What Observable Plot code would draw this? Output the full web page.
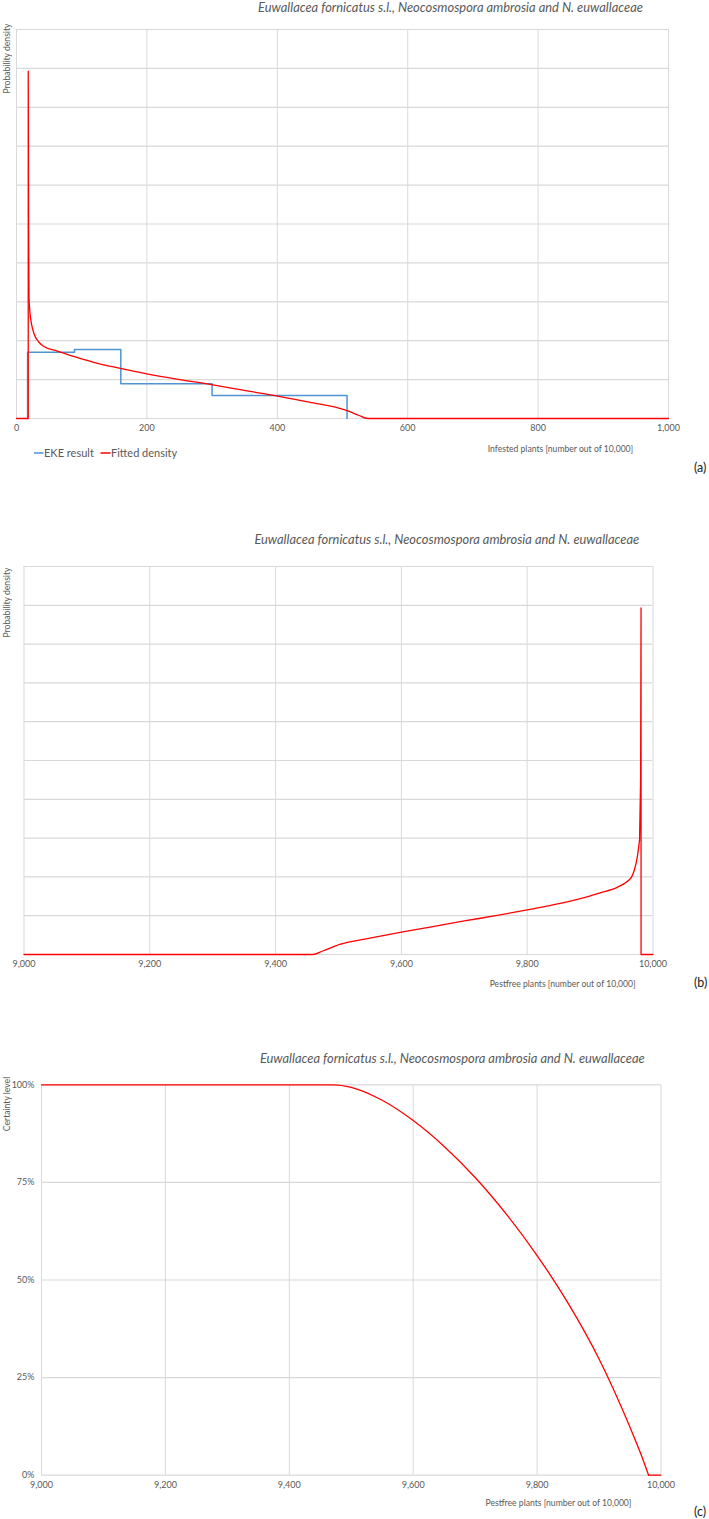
<!DOCTYPE html>
<html>
<head>
<meta charset="utf-8">
<script src="https://cdn.jsdelivr.net/npm/d3@7"></script>
<script src="https://cdn.jsdelivr.net/npm/@observablehq/plot@0.6"></script>
<style>
  html, body { margin: 0; padding: 0; background: #fff; }
  #page { position: relative; width: 709px; height: 1519px; overflow: hidden; background: #fff; }
  .panel { position: absolute; left: 0; }
  #overlay { position: absolute; left: 0; top: 0; pointer-events: none; }
</style>
</head>
<body>
<div id="page"></div>
<script>
// ---------------- DATA ----------------
const titleText = "Euwallacea fornicatus s.l., Neocosmospora ambrosia and N. euwallaceae";

// Panel (a): infested plants
const xTicksA = [0, 200, 400, 600, 800, 1000];
const yGridA = [0, 1, 2, 3, 4, 5, 6, 7, 8, 9, 10];
// EKE result (step histogram of elicited quantiles)
const ekeX = [17, 17, 89, 160, 300, 507];
const ekeY = [0, 1.706, 1.776, 0.893, 0.592, 0];
// Fitted density: spike part and body part
const spikeAX = [0, 18, 18, 18.5, 19.2];
const spikeAY = [0, 0, 8.93, 5.0, 3.04];
const fitAX = [19.2, 20.8, 22.9, 26.9, 34.5, 42.1, 62.6, 88, 118.5, 159.2, 200, 245.8, 299.2, 347.5, 400.5, 449, 506, 525.6, 538.4, 1000];
const fitAY = [3.04, 2.69, 2.44, 2.18, 1.96, 1.85, 1.735, 1.595, 1.443, 1.289, 1.15, 1.013, 0.870, 0.727, 0.575, 0.42, 0.209, 0.077, 0, 0];

// Panel (b): pest-free plants, fitted density (body part and spike part)
const xTicksB = [9000, 9200, 9400, 9600, 9800, 10000];
const yGridB = [0, 1, 2, 3, 4, 5, 6, 7, 8, 9, 10];
const fitBX = [9000, 9459, 9475, 9502, 9550, 9600, 9650, 9700, 9750, 9800, 9850, 9898, 9916, 9943, 9959, 9966, 9970, 9975, 9978.6];
const fitBY = [0, 0, 0.09, 0.26, 0.42, 0.575, 0.72, 0.865, 1.00, 1.15, 1.31, 1.50, 1.59, 1.73, 1.88, 2.0, 2.16, 2.51, 2.94];
const spikeBX = [9978.6, 9980.3, 9981, 9981, 10000];
const spikeBY = [2.94, 4.5, 8.93, 0, 0];

// Panel (c): certainty level (curve part and flat tail)
const xTicksC = [9000, 9200, 9400, 9600, 9800, 10000];
const yTicksC = [0, 0.25, 0.5, 0.75, 1];
const certX = [9000, 9471.5, 9500, 9550, 9600, 9650, 9700, 9750, 9800, 9850, 9900, 9950, 9966.6, 9980];
const certY = [1, 1, 0.9936, 0.9603, 0.9083, 0.842, 0.7625, 0.6692, 0.5627, 0.4407, 0.2977, 0.1227, 0.058, 0];
const certTailX = [9980, 10000];
const certTailY = [0, 0];

// Text labels
const legendLabels = ["EKE result", "Fitted density"];
const xTitleA = "Infested plants [number out of 10,000]";
const xTitleBC = "Pestfree plants [number out of 10,000]";
const yTitleAB = "Probability density";
const yTitleC = "Certainty level";
const panelTags = ["(a)", "(b)", "(c)"];

// ---------------- STYLE ----------------
const W = 709;
const FONT = "Lato, 'Open Sans', sans-serif";
const TXT = "#595959";
const GRID = "#d9d9d9";
const RED = "#ff0000";
const BLUE = "#4f93d3";
const comma = d3.format(",");

const page = document.getElementById("page");
const toPts = (xs, ys) => xs.map((x, i) => ({x, y: ys[i]}));

function place(el, top) {
  const wrap = document.createElement("div");
  wrap.className = "panel";
  wrap.style.top = top + "px";
  wrap.appendChild(el);
  page.appendChild(wrap);
}

const baseStyle = {fontFamily: FONT, fontSize: "9px", color: TXT, background: "transparent", overflow: "visible"};

// Panel (a)
const plotA = Plot.plot({
  width: W, height: 440,
  marginLeft: 16, marginRight: 41, marginTop: 29, marginBottom: 22,
  style: baseStyle,
  x: {domain: [0, 1000], ticks: xTicksA, tickFormat: comma, tickSize: 0, tickPadding: 6, label: null},
  y: {domain: [0, 10], axis: null},
  marks: [
    Plot.ruleX(xTicksA, {stroke: GRID, strokeWidth: 1}),
    Plot.ruleY(yGridA, {stroke: GRID, strokeWidth: 1.2}),
    Plot.line(toPts(ekeX, ekeY), {x: "x", y: "y", curve: "step-after", stroke: BLUE, strokeWidth: 1.5}),
    Plot.line(toPts(spikeAX, spikeAY), {x: "x", y: "y", stroke: RED, strokeWidth: 1.3}),
    Plot.line(toPts(fitAX, fitAY), {x: "x", y: "y", curve: "monotone-x", stroke: RED, strokeWidth: 1.3})
  ]
});
place(plotA, 0);

// Panel (b)
const plotB = Plot.plot({
  width: W, height: 444,
  marginLeft: 23.5, marginRight: 56.5, marginTop: 36, marginBottom: 20,
  style: baseStyle,
  x: {domain: [9000, 10000], ticks: xTicksB, tickFormat: comma, tickSize: 0, tickPadding: 6, label: null},
  y: {domain: [0, 10], axis: null},
  marks: [
    Plot.ruleX(xTicksB, {stroke: GRID, strokeWidth: 1}),
    Plot.ruleY(yGridB, {stroke: GRID, strokeWidth: 1.2}),
    Plot.line(toPts(fitBX, fitBY), {x: "x", y: "y", curve: "monotone-x", stroke: RED, strokeWidth: 1.3}),
    Plot.line(toPts(spikeBX, spikeBY), {x: "x", y: "y", stroke: RED, strokeWidth: 1.3})
  ]
});
place(plotB, 530);

// Panel (c)
const plotC = Plot.plot({
  width: W, height: 425,
  marginLeft: 41, marginRight: 48.5, marginTop: 14.3, marginBottom: 20.3,
  style: baseStyle,
  x: {domain: [9000, 10000], ticks: xTicksC, tickFormat: comma, tickSize: 0, tickPadding: 6, label: null},
  y: {domain: [0, 1], ticks: yTicksC, tickFormat: d3.format(".0%"), tickSize: 0, tickPadding: 7, label: null},
  marks: [
    Plot.ruleX(xTicksC, {stroke: GRID, strokeWidth: 1}),
    Plot.ruleY(yTicksC, {stroke: GRID, strokeWidth: 1.2}),
    Plot.line(toPts(certX, certY), {x: "x", y: "y", curve: "monotone-x", stroke: RED, strokeWidth: 1.3}),
    Plot.line(toPts(certTailX, certTailY), {x: "x", y: "y", stroke: RED, strokeWidth: 1.3})
  ]
});
place(plotC, 1070);

// ---------------- TEXT OVERLAY ----------------
const svg = d3.select(page).append("svg")
  .attr("id", "overlay")
  .attr("width", W).attr("height", 1519)
  .style("font-family", FONT);

function text(str, x, y, opts = {}) {
  const t = svg.append("text")
    .attr("x", x).attr("y", y)
    .attr("fill", opts.fill || TXT)
    .attr("font-size", opts.size || 9)
    .attr("text-anchor", opts.anchor || "start")
    .attr("font-style", opts.italic ? "italic" : "normal")
    .text(str);
  if (opts.rotate) t.attr("transform", `rotate(-90 ${x} ${y})`);
  return t;
}

// Titles
text(titleText, 450.5, 12, {size: 12.9, italic: true, anchor: "middle"});
text(titleText, 446.8, 544, {size: 12.9, italic: true, anchor: "middle"});
text(titleText, 452.3, 1063, {size: 12.9, italic: true, anchor: "middle"});

// Y titles (rotated)
text(yTitleAB, 9.5, 58.5, {size: 8.6, anchor: "middle", rotate: true});
text(yTitleAB, 9.5, 602.5, {size: 8.6, anchor: "middle", rotate: true});
text(yTitleC, 9.5, 1104, {size: 8.6, anchor: "middle", rotate: true});

// X titles
text(xTitleA, 560.5, 452, {size: 8.6, anchor: "middle"});
text(xTitleBC, 562.7, 987, {size: 8.6, anchor: "middle"});
text(xTitleBC, 558.5, 1506, {size: 8.6, anchor: "middle"});

// Panel tags
text(panelTags[0], 694, 472, {size: 12.5, fill: "#222"});
text(panelTags[1], 694, 987, {size: 12.5, fill: "#222"});
text(panelTags[2], 694, 1516, {size: 12.5, fill: "#222"});

// Legend
svg.append("line").attr("x1", 34).attr("x2", 43.5).attr("y1", 453).attr("y2", 453).attr("stroke", BLUE).attr("stroke-width", 1.5);
text(legendLabels[0], 44, 457, {size: 11});
svg.append("line").attr("x1", 100.5).attr("x2", 110.5).attr("y1", 453).attr("y2", 453).attr("stroke", RED).attr("stroke-width", 1.5);
text(legendLabels[1], 111, 457, {size: 11});
</script>
</body>
</html>
